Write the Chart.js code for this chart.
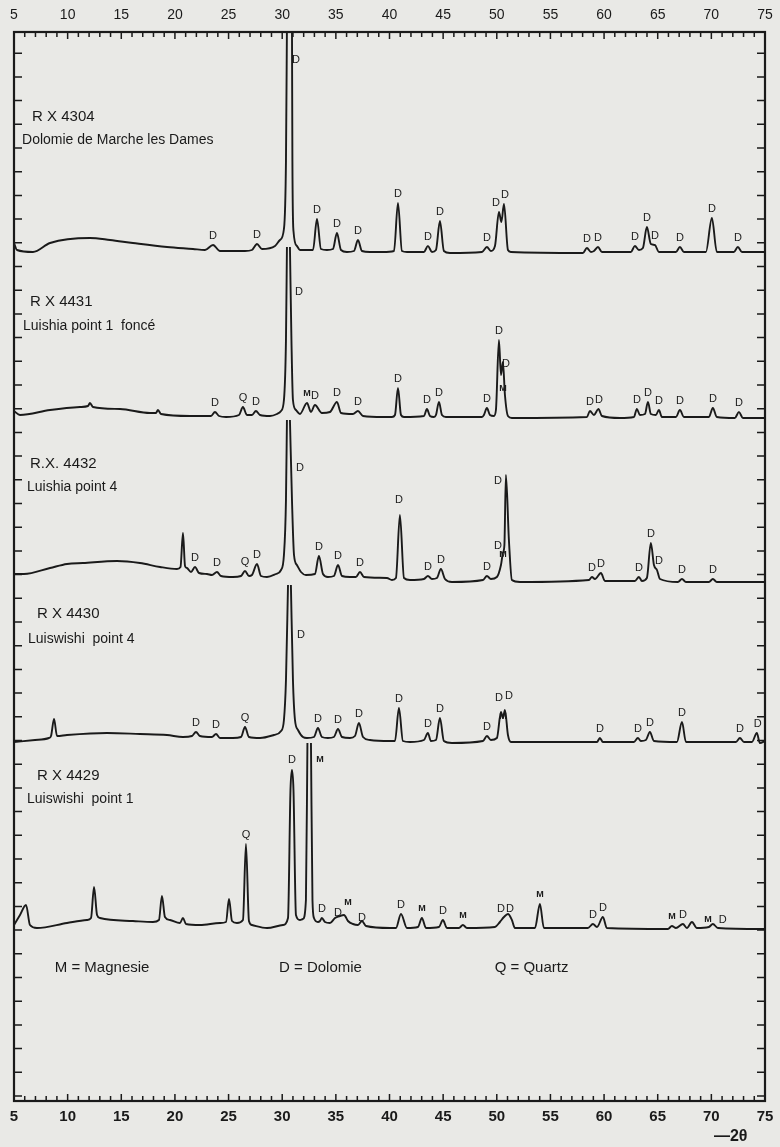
<!DOCTYPE html>
<html>
<head>
<meta charset="utf-8">
<title>Diffractogrammes RX - dolomies</title>
<script src="https://cdn.jsdelivr.net/npm/chart.js@4.4.1/dist/chart.umd.min.js"></script>
<style>
  html, body { margin: 0; padding: 0; background: #e9e9e6; }
  canvas { display: block; }
</style>
</head>
<body>
<canvas id="xrd" width="780" height="1147"></canvas>
<script>
// axe 2θ (degrés)
const twoThetaLabels = [5, 10, 15, 20, 25, 30, 35, 40, 45, 50, 55, 60, 65, 70, 75];

const sampleCodes = ["R X 4304", "R X 4431", "R.X. 4432", "R X 4430", "R X 4429"];
const sampleNames = [
  "Dolomie de Marche les Dames",
  "Luishia point 1  foncé",
  "Luishia point 4",
  "Luiswishi  point 4",
  "Luiswishi  point 1",
];
const phaseKey = ["M = Magnesie", "D = Dolomie", "Q = Quartz"];

// enregistrements [2θ, intensité] (les courbes sont empilées, null = pic coupé)
const rx4304 = [
  [5.0, 858], [5.28, 851], [6.77, 849], [8.36, 858], [12.08, 863], [13.95, 861], [16.09, 858], [19.26, 854], [21.68, 852],
  [22.80, 851], [23.55, 856], [24.20, 850], [25.41, 850], [26.53, 850], [27.18, 851], [27.65, 857], [28.11, 852],
  [29.33, 855], [29.79, 861], [30.16, 872], [30.35, 940], [30.44, 1075], [30.63, null], [30.91, 1075], [30.95, 940], [31.05, 870], [31.37, 855], [31.65, 851],
  [32.87, 851], [33.24, 882], [33.61, 852], [34.17, 851], [34.73, 852], [35.10, 868], [35.48, 851], [36.03, 849],
  [36.69, 850], [37.06, 861], [37.43, 850], [38.18, 849], [39.39, 849],
  [40.42, 850], [40.79, 898], [41.16, 850], [41.63, 849],
  [43.21, 849], [43.58, 855], [43.96, 849], [44.33, 851], [44.70, 880], [45.07, 850], [45.63, 848],
  [48.62, 849], [49.08, 854], [49.45, 850], [49.83, 855], [50.20, 889], [50.43, 879], [50.67, 897], [51.04, 851], [51.32, 849],
  [58.03, 848], [58.40, 853], [58.78, 849], [59.06, 850], [59.43, 854], [59.80, 849],
  [62.50, 849], [62.87, 855], [63.25, 851], [63.62, 853], [63.99, 874], [64.36, 857], [64.74, 856], [65.11, 849],
  [66.70, 849], [67.07, 854], [67.44, 849], [69.49, 849], [70.05, 883], [70.51, 849],
  [72.10, 849], [72.47, 854], [72.85, 849], [75.0, 849],
];

const rx4431 = [
  [5.0, 690], [5.56, 686], [8.36, 691], [11.15, 694], [11.90, 695], [12.08, 698], [12.36, 694], [14.88, 692],
  [17.68, 688], [18.23, 688], [18.42, 691], [18.70, 687], [21.40, 685],
  [23.36, 685], [23.73, 689], [24.11, 685], [24.76, 684],
  [25.97, 686], [26.34, 694], [26.71, 686], [27.18, 686], [27.55, 690], [27.93, 686], [28.86, 685], [29.51, 687],
  [29.89, 690], [30.16, 701], [30.35, 761], [30.44, 854], [30.58, null], [30.72, 854], [30.86, 761], [31.00, 701], [31.28, 691],
  [31.65, 687], [32.31, 698], [32.68, 689], [33.05, 696], [33.70, 688], [34.45, 689], [35.10, 699], [35.48, 688],
  [36.59, 687], [37.06, 690], [37.53, 685], [39.39, 684],
  [40.23, 684], [40.51, 686], [40.79, 713], [41.07, 686], [41.35, 684],
  [43.21, 685], [43.49, 692], [43.77, 685], [44.14, 684], [44.33, 686], [44.61, 699], [44.89, 686], [45.26, 684],
  [48.62, 684], [48.80, 686], [49.08, 693], [49.36, 686], [49.73, 685],
  [49.92, 691], [50.20, 761], [50.39, 726], [50.57, 739], [50.76, 706], [51.04, 685], [51.41, 683],
  [58.40, 684], [58.68, 690], [59.06, 686], [59.47, 692], [59.80, 685], [61.48, 683],
  [62.78, 684], [63.06, 692], [63.34, 686], [63.81, 687], [64.09, 699], [64.36, 687], [64.83, 686], [65.11, 691], [65.39, 684],
  [66.70, 684], [67.07, 691], [67.44, 684], [69.77, 684], [70.14, 693], [70.51, 684],
  [72.19, 683], [72.57, 689], [72.94, 683], [75.0, 683],
];

const rx4432 = [
  [5.0, 527], [5.93, 527], [8.36, 533], [9.94, 537], [11.43, 538], [14.60, 540], [16.74, 538], [18.61, 534], [20.19, 532],
  [20.52, 534], [20.75, 568], [20.94, 535], [21.12, 533],
  [21.50, 529], [21.87, 534], [22.24, 528], [22.99, 527],
  [23.45, 526], [23.92, 529], [24.29, 525], [25.41, 524],
  [26.16, 525], [26.53, 530], [26.90, 525], [27.18, 526], [27.65, 537], [28.02, 525], [28.58, 524], [29.42, 527],
  [29.89, 531], [30.16, 546], [30.35, 601], [30.44, 681], [30.58, null], [30.72, 681], [30.91, 601], [31.10, 546], [31.37, 536], [31.75, 529], [32.21, 526],
  [33.05, 527], [33.42, 545], [33.80, 527], [34.26, 524],
  [34.82, 525], [35.20, 536], [35.57, 525], [36.31, 524],
  [36.87, 524], [37.25, 529], [37.62, 524], [39.76, 523],
  [40.23, 521], [40.60, 523], [40.97, 586], [41.35, 523], [41.91, 521],
  [43.21, 522], [43.58, 525], [43.96, 522], [44.42, 523], [44.79, 532], [45.17, 522], [45.82, 519],
  [48.71, 521], [49.08, 525], [49.45, 522],
  [50.01, 524], [50.39, 536], [50.57, 548], [50.71, 556], [50.85, 626], [51.13, 561], [51.41, 521], [52.16, 519],
  [58.59, 521], [58.87, 524], [59.15, 522], [59.71, 528], [60.08, 520],
  [62.87, 520], [63.25, 524], [63.53, 520],
  [63.99, 523], [64.36, 558], [64.65, 536], [64.93, 531], [65.21, 522],
  [66.88, 519], [67.26, 522], [67.63, 519], [69.77, 519], [70.14, 522], [70.51, 519], [75.0, 519],
];

const rx4430 = [
  [5.0, 359], [6.96, 361], [8.26, 363], [8.45, 365], [8.73, 382], [9.01, 365], [9.94, 366], [13.67, 368], [16.74, 367], [19.26, 366], [20.75, 364],
  [21.59, 365], [21.96, 369], [22.33, 365], [23.45, 364], [23.83, 367], [24.20, 363], [25.41, 363],
  [26.16, 364], [26.53, 374], [26.90, 364], [27.93, 363], [29.23, 366],
  [29.89, 370], [30.16, 381], [30.35, 421], [30.54, 516], [30.68, null], [30.81, 516], [31.00, 421], [31.19, 381], [31.47, 371], [31.93, 364], [32.31, 363],
  [32.96, 364], [33.33, 373], [33.70, 364], [34.26, 363],
  [34.82, 364], [35.20, 372], [35.57, 364], [36.31, 363],
  [36.78, 365], [37.15, 378], [37.53, 364], [38.18, 361], [40.04, 360],
  [40.51, 360], [40.88, 393], [41.25, 360], [41.91, 359],
  [43.21, 361], [43.58, 368], [43.86, 360], [44.33, 361], [44.70, 383], [45.07, 360], [45.82, 358],
  [48.71, 360], [49.08, 365], [49.45, 361],
  [50.01, 363], [50.39, 389], [50.57, 383], [50.76, 391], [51.04, 366], [51.32, 359], [52.16, 359],
  [59.34, 359], [59.61, 363], [59.89, 359], [62.78, 359], [63.15, 363], [63.43, 360],
  [63.90, 361], [64.27, 369], [64.65, 360], [66.79, 359], [67.26, 379], [67.63, 359],
  [72.29, 359], [72.66, 363], [73.04, 359], [73.78, 359], [74.24, 368], [74.52, 358], [75.0, 360],
];

const rx4429 = [
  [5.0, 176], [5.56, 186], [6.12, 196], [6.49, 176], [7.14, 173], [9.94, 178], [11.80, 181],
  [12.18, 183], [12.46, 214], [12.74, 186], [13.01, 183], [16.09, 180], [17.95, 179],
  [18.51, 181], [18.79, 205], [19.07, 184], [19.54, 181],
  [20.47, 178], [20.75, 183], [21.03, 177], [22.33, 176], [24.20, 178],
  [24.76, 179], [25.04, 202], [25.32, 180], [25.78, 178],
  [26.34, 181], [26.62, 257], [26.90, 180], [27.18, 176], [28.58, 173], [30.07, 176],
  [30.54, 183], [30.77, 311], [30.91, 331], [31.05, 311], [31.28, 186], [31.65, 181], [31.93, 182],
  [32.21, 201], [32.35, 358], [32.52, null], [32.68, 358], [32.82, 201], [32.96, 183],
  [33.33, 179], [33.52, 180], [33.70, 183], [33.98, 179], [34.45, 178],
  [34.92, 183], [35.38, 185], [35.76, 186], [36.13, 180], [36.59, 177], [37.06, 176], [37.43, 180], [37.81, 175], [40.04, 173],
  [40.60, 173], [41.07, 187], [41.63, 173], [42.65, 174], [43.02, 183], [43.40, 173],
  [44.61, 174], [44.98, 181], [45.35, 173], [46.47, 173], [46.84, 176], [47.22, 173],
  [49.83, 174], [50.29, 179], [50.67, 184], [51.04, 187], [51.41, 181], [51.69, 173],
  [53.56, 173], [54.02, 197], [54.39, 173],
  [58.49, 173], [58.96, 177], [59.34, 174], [59.89, 184], [60.26, 173],
  [65.95, 172], [66.32, 175], [66.70, 173], [67.35, 177], [67.72, 173], [68.19, 179], [68.65, 173],
  [69.77, 174], [70.14, 177], [70.61, 173], [75.0, 172],
];

// repères de phases [2θ, lettre, niveau facultatif]
const peaks4304 = [
  [23.55, "D"], [27.65, "D"], [31.28, "D", 1041], [33.24, "D"], [35.10, "D"], [37.06, "D"], [40.79, "D"], [43.58, "D"],
  [44.70, "D"], [49.08, "D"], [49.92, "D"], [50.76, "D"], [58.40, "D"], [59.43, "D"], [62.87, "D"], [63.99, "D"],
  [64.74, "D"], [67.07, "D"], [70.05, "D"], [72.47, "D"],
];
const peaks4431 = [
  [23.73, "D"], [26.34, "Q"], [27.55, "D"], [31.56, "D", 809], [32.31, "M"], [33.05, "D"], [35.10, "D"], [37.06, "D"],
  [40.79, "D"], [43.49, "D"], [44.61, "D"], [49.08, "D"], [50.20, "D"], [50.85, "D", 737], [50.57, "M", 712],
  [58.68, "D"], [59.52, "D"], [63.06, "D"], [64.09, "D"], [65.11, "D"], [67.07, "D"], [70.14, "D"], [72.57, "D"],
];
const peaks4432 = [
  [21.87, "D"], [23.92, "D"], [26.53, "Q"], [27.65, "D"], [31.65, "D", 633], [33.42, "D"], [35.20, "D"], [37.25, "D"],
  [40.88, "D", 601], [43.58, "D"], [44.79, "D"], [49.08, "D"], [50.11, "D", 620], [50.11, "D", 555], [50.57, "M", 546],
  [58.87, "D"], [59.71, "D"], [63.25, "D"], [64.36, "D"], [65.11, "D"], [67.26, "D"], [70.14, "D"],
];
const peaks4430 = [
  [21.96, "D"], [23.83, "D"], [26.53, "Q"], [31.75, "D", 466], [33.33, "D"], [35.20, "D"], [37.15, "D"], [40.88, "D"],
  [43.58, "D"], [44.70, "D"], [49.08, "D"], [50.20, "D", 403], [51.13, "D", 405], [50.57, "M", 384],
  [59.61, "D"], [63.15, "D"], [64.27, "D"], [67.26, "D"], [72.66, "D"], [74.33, "D"],
];
const peaks4429 = [
  [26.62, "Q"], [30.91, "D", 341], [33.52, "M", 341], [33.70, "D"], [35.20, "D", 188], [36.13, "M", 198], [37.43, "D", 183],
  [41.07, "D"], [43.02, "M"], [44.98, "D"], [46.84, "M"], [50.39, "D", 192], [51.23, "D", 192], [54.02, "M"],
  [58.96, "D"], [59.89, "D"], [66.32, "M"], [67.35, "D"], [69.68, "M", 181], [71.05, "D", 181],
];

const traces = [rx4304, rx4431, rx4432, rx4430, rx4429];
const peakLabels = [peaks4304, peaks4431, peaks4432, peaks4430, peaks4429];

// mise en page
const PAPER = "#e9e9e6";
const INK = "#1a1a1a";
const FONT = "'Liberation Sans', Arial, sans-serif";
const Y_TICK_START = 5;
const Y_TICK_STEP = 23.7;
// position des titres d'échantillon [2θ, niveau] (code puis nom)
const NAME_POS = [
  [[6.68, 984], [5.75, 961]],
  [[6.49, 799], [5.84, 775]],
  [[6.49, 637], [6.21, 614]],
  [[7.14, 487], [6.30, 462]],
  [[7.14, 325], [6.21, 302]],
];
const KEY_POS = [[8.8, 133], [29.7, 133], [49.8, 133]];

// plus haut point d'une courbe autour d'un 2θ
function localMax(points, t) {
  let best = -Infinity;
  points.forEach(([pt, pv]) => {
    if (pv !== null && Math.abs(pt - t) <= 0.35 && pv > best) best = pv;
  });
  return best;
}

const paperPlugin = {
  id: "paper",
  beforeDraw(chart) {
    const { ctx, width, height } = chart;
    ctx.save();
    ctx.fillStyle = PAPER;
    ctx.fillRect(0, 0, width, height);
    ctx.restore();
  },
  afterDraw(chart) {
    const { ctx, chartArea: a, scales } = chart;
    const x = scales.x;
    const y = scales.y;
    ctx.save();
    ctx.strokeStyle = INK;
    ctx.fillStyle = INK;

    // cadre
    ctx.lineWidth = 2.2;
    ctx.strokeRect(a.left, a.top, a.right - a.left, a.bottom - a.top);

    // graduations 2θ, haut et bas
    ctx.lineWidth = 1.5;
    for (let t = 5; t <= 75; t++) {
      const px = x.getPixelForValue(t);
      const len = t % 5 === 0 ? 7 : 5;
      ctx.beginPath();
      ctx.moveTo(px, a.top);
      ctx.lineTo(px, a.top + len);
      ctx.moveTo(px, a.bottom);
      ctx.lineTo(px, a.bottom - len);
      ctx.stroke();
    }
    // graduations d'intensité, gauche et droite
    for (let v = Y_TICK_START; v < y.max; v += Y_TICK_STEP) {
      const py = y.getPixelForValue(v);
      ctx.beginPath();
      ctx.moveTo(a.left, py);
      ctx.lineTo(a.left + 8, py);
      ctx.moveTo(a.right, py);
      ctx.lineTo(a.right - 8, py);
      ctx.stroke();
    }

    // valeurs 2θ
    ctx.textAlign = "center";
    ctx.textBaseline = "middle";
    twoThetaLabels.forEach((t) => {
      const px = x.getPixelForValue(t);
      ctx.font = "14px " + FONT;
      ctx.fillText(String(t), px, a.top - 17);
      ctx.font = "bold 15px " + FONT;
      ctx.fillText(String(t), px, a.bottom + 16);
    });
    ctx.font = "bold 16px " + FONT;
    ctx.fillText("—2θ", x.getPixelForValue(71.8), a.bottom + 36);

    // repères D / M / Q
    peakLabels.forEach((list, i) => {
      list.forEach(([t, txt, level]) => {
        let py;
        if (level === undefined) {
          py = y.getPixelForValue(localMax(traces[i], t)) - 9;
        } else {
          py = y.getPixelForValue(level);
        }
        ctx.font = txt === "M" ? "bold 9px " + FONT : "11px " + FONT;
        ctx.fillText(txt, x.getPixelForValue(t), py);
      });
    });

    // titres d'échantillon
    ctx.textAlign = "left";
    sampleCodes.forEach((code, i) => {
      const [c, n] = NAME_POS[i];
      ctx.font = "15px " + FONT;
      ctx.fillText(code, x.getPixelForValue(c[0]), y.getPixelForValue(c[1]));
      ctx.font = "14px " + FONT;
      ctx.fillText(sampleNames[i], x.getPixelForValue(n[0]), y.getPixelForValue(n[1]));
    });

    // légende des phases
    ctx.font = "15px " + FONT;
    phaseKey.forEach((txt, i) => {
      ctx.fillText(txt, x.getPixelForValue(KEY_POS[i][0]), y.getPixelForValue(KEY_POS[i][1]));
    });

    ctx.restore();
  },
};

new Chart(document.getElementById("xrd"), {
  type: "scatter",
  data: {
    datasets: traces.map((pts, i) => ({
      label: sampleCodes[i],
      data: pts.map(([t, v]) => ({ x: t, y: v })),
      showLine: true,
      spanGaps: false,
      borderColor: INK,
      borderWidth: 1.9,
      pointRadius: 0,
      cubicInterpolationMode: "monotone",
    })),
  },
  options: {
    responsive: false,
    animation: false,
    layout: { padding: { left: 14, right: 15, top: 32, bottom: 46 } },
    plugins: { legend: { display: false }, tooltip: { enabled: false } },
    scales: {
      x: { type: "linear", min: 5, max: 75, display: false },
      y: { type: "linear", min: 0, max: 1069, display: false },
    },
  },
  plugins: [paperPlugin],
});
</script>
</body>
</html>
